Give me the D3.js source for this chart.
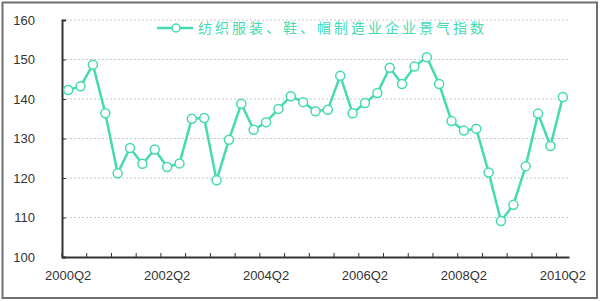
<!DOCTYPE html>
<html>
<head>
<meta charset="utf-8">
<script src="https://cdn.jsdelivr.net/npm/d3@7"></script>
<style>
  body { margin: 0; background: #fff; }
  svg { display: block; }
  .grid line { stroke: #c8c8c8; stroke-dasharray: 2,2; }
  .axis text { font-family: "Liberation Sans", Arial, sans-serif; font-size: 13px; fill: #333; }
</style>
</head>
<body>
<div id="chart"></div>
<script>

// quarters on the category axis
var quarters = ["2000Q2","2000Q3","2000Q4","2001Q1","2001Q2","2001Q3","2001Q4","2002Q1",
                "2002Q2","2002Q3","2002Q4","2003Q1","2003Q2","2003Q3","2003Q4","2004Q1",
                "2004Q2","2004Q3","2004Q4","2005Q1","2005Q2","2005Q3","2005Q4","2006Q1",
                "2006Q2","2006Q3","2006Q4","2007Q1","2007Q2","2007Q3","2007Q4","2008Q1",
                "2008Q2","2008Q3","2008Q4","2009Q1","2009Q2","2009Q3","2009Q4","2010Q1",
                "2010Q2"];

// index values
var index_values = [142.3, 143.2, 148.7, 136.4, 121.2, 127.6, 123.6, 127.2, 122.8, 123.7,
                    135.0, 135.2, 119.4, 129.7, 138.8, 132.2, 134.1, 137.5, 140.7, 139.2,
                    136.9, 137.3, 145.9, 136.4, 139.0, 141.5, 147.9, 143.8, 148.2, 150.6,
                    143.8, 134.4, 132.0, 132.5, 121.4, 109.1, 113.2, 123.0, 136.3, 128.1,
                    140.5];

var x_labels = ["2000Q2","2002Q2","2004Q2","2006Q2","2008Q2","2010Q2"];
var y_ticks = [100, 110, 120, 130, 140, 150, 160];
var series_name = "纺织服装、鞋、帽制造业企业景气指数";

var W = 600, H = 301;
var plot = {left: 62, right: 569, top: 20, bottom: 257};
var teal = "#45dbb0";

var svg = d3.select("#chart").append("svg")
    .attr("width", W)
    .attr("height", H);

// outer frame
svg.append("rect")
    .attr("x", 2.5).attr("y", 2.5)
    .attr("width", W - 5.5).attr("height", H - 5.5)
    .attr("fill", "#fff")
    .attr("stroke", "#707070")
    .attr("stroke-width", 2);

var x = d3.scaleBand().domain(quarters).range([plot.left, plot.right]);
var y = d3.scaleLinear().domain([100, 160]).range([plot.bottom, plot.top]);

// dotted gridlines
svg.append("g")
    .attr("class", "grid")
  .selectAll("line")
    .data(y_ticks.slice(1))
  .enter().append("line")
    .attr("x1", plot.left)
    .attr("x2", plot.right)
    .attr("y1", function(d) { return y(d); })
    .attr("y2", function(d) { return y(d); });

// y axis, ticks pointing inward
var yAxis = svg.append("g")
    .attr("class", "axis")
    .attr("transform", "translate(" + plot.left + ",0)")
    .call(d3.axisLeft(y).tickValues(y_ticks).tickSize(-4).tickPadding(27));
yAxis.select(".domain").attr("stroke", "#333").attr("stroke-width", 2);
yAxis.selectAll(".tick line").attr("stroke", "#333");

// x axis labels
var xAxis = svg.append("g")
    .attr("class", "axis")
    .attr("transform", "translate(0," + plot.bottom + ")")
    .call(d3.axisBottom(x).tickValues(x_labels).tickSize(0).tickPadding(14));
xAxis.select(".domain").attr("stroke", "#333").attr("stroke-width", 2);

// tick marks every second quarter, on the category boundaries
svg.append("g")
  .selectAll("line")
    .data(quarters.filter(function(d, i) { return i % 2 == 0; }))
  .enter().append("line")
    .attr("x1", function(d) { return x(d); })
    .attr("x2", function(d) { return x(d); })
    .attr("y1", plot.bottom)
    .attr("y2", plot.bottom - 4)
    .attr("stroke", "#333");

var data = quarters.map(function(q, i) { return {q: q, v: index_values[i]}; });

var valueline = d3.line()
    .x(function(d) { return x(d.q) + x.bandwidth() / 2; })
    .y(function(d) { return y(d.v); });

svg.append("path")
    .datum(data)
    .attr("fill", "none")
    .attr("stroke", teal)
    .attr("stroke-width", 2.5)
    .attr("d", valueline);

svg.selectAll(".dot")
    .data(data)
  .enter().append("circle")
    .attr("class", "dot")
    .attr("r", 4.5)
    .attr("cx", function(d) { return x(d.q) + x.bandwidth() / 2; })
    .attr("cy", function(d) { return y(d.v); })
    .attr("fill", "#fff")
    .attr("stroke", teal)
    .attr("stroke-width", 1.5);

// legend
var legend = svg.append("g").attr("transform", "translate(157,28)");
legend.append("line")
    .attr("x1", 0).attr("x2", 36)
    .attr("stroke", teal).attr("stroke-width", 2.5);
legend.append("circle")
    .attr("cx", 19).attr("r", 4)
    .attr("fill", "#fff").attr("stroke", teal).attr("stroke-width", 1.5);
legend.append("text")
    .attr("x", 41).attr("y", 5)
    .attr("font-family", "'Noto Sans CJK SC', sans-serif")
    .attr("font-size", 14)
    .attr("letter-spacing", 3)
    .attr("fill", teal)
    .text(series_name);

</script>
</body>
</html>
